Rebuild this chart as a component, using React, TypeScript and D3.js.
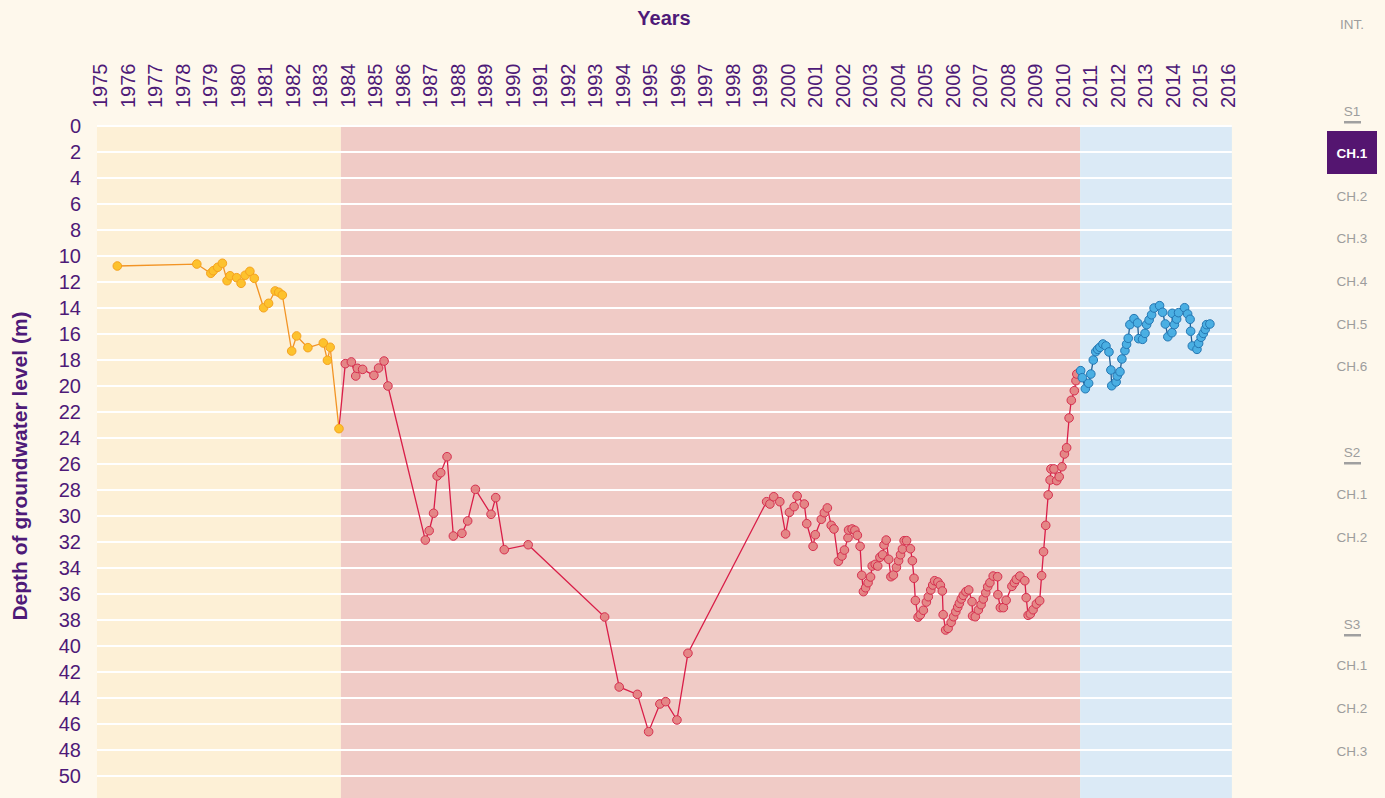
import React, { useRef, useEffect } from "react";
import * as d3 from "d3";

// years on the top axis
const yearTicks = [
  1975, 1976, 1977, 1978, 1979, 1980, 1981, 1982, 1983, 1984, 1985, 1986, 1987, 1988,
  1989, 1990, 1991, 1992, 1993, 1994, 1995, 1996, 1997, 1998, 1999, 2000, 2001, 2002,
  2003, 2004, 2005, 2006, 2007, 2008, 2009, 2010, 2011, 2012, 2013, 2014, 2015, 2016,
];
const depthTicks = [0, 2, 4, 6, 8, 10, 12, 14, 16, 18, 20, 22, 24, 26, 28, 30, 32, 34, 36, 38, 40, 42, 44, 46, 48, 50];

// shaded periods
const periodStarts = [1974.89, 1983.76, 2010.64];
const periodEnds = [1983.76, 2010.64, 2016.16];
const periodFills = ["#fdf0d6", "#f0cbc6", "#dbeaf6"];

const yellowYears = [
  1975.63, 1978.52, 1979.03, 1979.12, 1979.28, 1979.45, 1979.62, 1979.73, 1979.97, 1980.13,
  1980.28, 1980.45, 1980.61, 1980.95, 1981.13, 1981.37, 1981.5, 1981.63, 1981.97, 1982.15,
  1982.56, 1983.12, 1983.27, 1983.37, 1983.69,
];
const yellowDepths = [
  10.77, 10.62, 11.33, 11.13, 10.87, 10.56, 11.9, 11.52, 11.67, 12.1,
  11.48, 11.18, 11.72, 13.98, 13.64, 12.69, 12.79, 13.0, 17.31, 16.15,
  17.05, 16.69, 18.02, 17.02, 23.28,
];

const redYears = [
  1983.92, 1984.14, 1984.3, 1984.36, 1984.55, 1984.96, 1985.13, 1985.33, 1985.47, 1986.83,
  1986.97, 1987.13, 1987.26, 1987.39, 1987.62, 1987.85, 1988.16, 1988.37, 1988.65, 1989.22,
  1989.39, 1989.7, 1990.57, 1993.35, 1993.88, 1994.54, 1994.95, 1995.36, 1995.57, 1995.98,
  1996.38, 1999.24, 1999.36, 1999.5, 1999.72, 1999.93, 2000.07, 2000.24, 2000.35, 2000.61,
  2000.7, 2000.93, 2001.01, 2001.23, 2001.34, 2001.45, 2001.59, 2001.69, 2001.85, 2001.98,
  2002.07, 2002.2, 2002.22, 2002.35, 2002.45, 2002.54, 2002.64, 2002.7, 2002.76, 2002.84,
  2002.93, 2003.02, 2003.08, 2003.19, 2003.28, 2003.36, 2003.46, 2003.51, 2003.59, 2003.68,
  2003.76, 2003.85, 2003.96, 2004.04, 2004.11, 2004.18, 2004.24, 2004.33, 2004.47, 2004.54,
  2004.6, 2004.65, 2004.75, 2004.83, 2004.94, 2005.05, 2005.12, 2005.21, 2005.28, 2005.35,
  2005.47, 2005.56, 2005.63, 2005.66, 2005.75, 2005.84, 2005.95, 2006.04, 2006.12, 2006.19,
  2006.25, 2006.32, 2006.39, 2006.49, 2006.59, 2006.71, 2006.73, 2006.83, 2006.94, 2007.04,
  2007.12, 2007.21, 2007.28, 2007.36, 2007.48, 2007.64, 2007.65, 2007.74, 2007.85, 2007.95,
  2008.16, 2008.25, 2008.32, 2008.45, 2008.63, 2008.68, 2008.75, 2008.83, 2008.93, 2009.05,
  2009.17, 2009.24, 2009.31, 2009.39, 2009.48, 2009.55, 2009.58, 2009.69, 2009.79, 2009.88,
  2009.98, 2010.07, 2010.15, 2010.24, 2010.32, 2010.43, 2010.49, 2010.52,
];
const redDepths = [
  18.28, 18.15, 19.23, 18.64, 18.72, 19.18, 18.62, 18.08, 20.0, 31.85,
  31.13, 29.79, 26.92, 26.67, 25.44, 31.54, 31.33, 30.38, 27.95, 29.87,
  28.59, 32.59, 32.21, 37.77, 43.15, 43.72, 46.59, 44.46, 44.28, 45.69,
  40.56, 28.9, 29.08, 28.52, 28.9, 31.38, 29.72, 29.28, 28.46, 29.08,
  30.59, 32.33, 31.44, 30.25, 29.75, 29.38, 30.72, 31.0, 33.48, 33.08,
  32.62, 31.67, 31.08, 31.0, 31.1, 31.48, 32.33, 34.56, 35.82, 35.52,
  35.13, 34.69, 33.85, 33.72, 33.85, 33.18, 32.98, 32.23, 31.85, 33.33,
  34.67, 34.54, 33.95, 33.44, 32.98, 32.54, 31.9, 31.9, 32.52, 33.44,
  34.79, 36.5, 37.78, 37.6, 37.25, 36.62, 36.21, 35.69, 35.31, 34.98,
  35.08, 35.33, 35.77, 37.59, 38.77, 38.64, 38.18, 37.75, 37.36, 37.02,
  36.72, 36.38, 36.1, 35.82, 35.69, 36.59, 37.69, 37.75, 37.23, 36.82,
  36.38, 35.9, 35.44, 35.13, 34.62, 34.67, 36.05, 37.05, 37.05, 36.48,
  35.41, 35.13, 34.87, 34.62, 34.98, 36.28, 37.64, 37.54, 37.21, 36.77,
  36.52, 34.59, 32.75, 30.72, 28.38, 27.23, 26.38, 26.38, 27.28, 26.98,
  26.21, 25.23, 24.75, 22.46, 21.1, 20.36, 19.59, 19.08,
];

const blueYears = [
  2010.66, 2010.72, 2010.83, 2010.95, 2011.03, 2011.12, 2011.21, 2011.28, 2011.36, 2011.47,
  2011.58, 2011.69, 2011.76, 2011.79, 2011.95, 2011.99, 2012.09, 2012.16, 2012.27, 2012.33,
  2012.39, 2012.45, 2012.6, 2012.73, 2012.77, 2012.91, 2013.0, 2013.06, 2013.15, 2013.24,
  2013.33, 2013.53, 2013.64, 2013.74, 2013.83, 2013.98, 2013.99, 2014.07, 2014.15, 2014.22,
  2014.44, 2014.55, 2014.64, 2014.66, 2014.72, 2014.89, 2014.95, 2015.04, 2015.12, 2015.19,
  2015.24, 2015.36,
];
const blueDepths = [
  18.82, 19.36, 20.21, 19.79, 19.08, 18.0, 17.36, 17.18, 17.02, 16.77,
  16.92, 17.38, 18.77, 19.98, 19.69, 19.23, 18.9, 17.92, 17.28, 16.79,
  16.33, 15.28, 14.82, 15.15, 16.36, 16.41, 15.95, 15.28, 14.92, 14.52,
  14.0, 13.82, 14.33, 15.23, 16.21, 15.9, 14.41, 15.28, 14.85, 14.36,
  13.98, 14.46, 14.87, 15.79, 16.92, 17.18, 16.72, 16.25, 15.95, 15.64,
  15.28, 15.23,
];

const navLabels = ["INT.", "S1", "CH.1", "CH.2", "CH.3", "CH.4", "CH.5", "CH.6", "S2", "CH.1", "CH.2", "S3", "CH.1", "CH.2", "CH.3"];
const navTops = [24, 111, 153, 196, 238, 281, 324, 366, 452, 494, 537, 624, 665, 708, 751];

const width = 1385;
const height = 798;
const purple = "#4e1a78";
const font = "'Liberation Sans', Arial, Helvetica, sans-serif";

function GroundwaterChart() {
  const svgRef = useRef(null);

  useEffect(() => {
    const svg = d3.select(svgRef.current);
    svg.selectAll("*").remove();

    const x = d3.scaleLinear().domain([1975, 2016]).range([100, 1227.5]);
    const y = d3.scaleLinear().domain([0, 50]).range([126, 776]);
    const plotTop = 125;

    svg.append("rect").attr("width", width).attr("height", height).attr("fill", "#fef8ec");

    // period bands
    svg
      .selectAll(".band")
      .data(periodStarts)
      .join("rect")
      .attr("class", "band")
      .attr("x", (d) => x(d))
      .attr("y", plotTop)
      .attr("width", (d, i) => x(periodEnds[i]) - x(d))
      .attr("height", height - plotTop)
      .attr("fill", (d, i) => periodFills[i]);

    // white grid lines
    svg
      .selectAll(".grid")
      .data(depthTicks)
      .join("line")
      .attr("class", "grid")
      .attr("x1", x(periodStarts[0]))
      .attr("x2", x(periodEnds[2]))
      .attr("y1", (d) => y(d))
      .attr("y2", (d) => y(d))
      .attr("stroke", "#ffffff")
      .attr("stroke-width", 2);

    // year labels, rotated
    svg
      .selectAll(".year")
      .data(yearTicks)
      .join("text")
      .attr("class", "year")
      .attr("transform", (d) => `translate(${x(d) + 7},108) rotate(-90)`)
      .attr("font-family", font)
      .attr("font-size", 20)
      .attr("fill", purple)
      .text((d) => d);

    // depth labels
    svg
      .selectAll(".depth")
      .data(depthTicks)
      .join("text")
      .attr("class", "depth")
      .attr("x", 81)
      .attr("y", (d) => y(d) + 7)
      .attr("text-anchor", "end")
      .attr("font-family", font)
      .attr("font-size", 20)
      .attr("fill", purple)
      .text((d) => d);

    svg
      .append("text")
      .attr("x", 664)
      .attr("y", 25)
      .attr("text-anchor", "middle")
      .attr("font-family", font)
      .attr("font-size", 20)
      .attr("font-weight", "bold")
      .attr("fill", purple)
      .text("Years");

    svg
      .append("text")
      .attr("transform", "translate(27,466) rotate(-90)")
      .attr("text-anchor", "middle")
      .attr("font-family", font)
      .attr("font-size", 21)
      .attr("font-weight", "bold")
      .attr("fill", purple)
      .text("Depth of groundwater level (m)");

    const line = d3
      .line()
      .x((d) => x(d[0]))
      .y((d) => y(d[1]));

    const yellow = yellowYears.map((d, i) => [d, yellowDepths[i]]);
    const red = redYears.map((d, i) => [d, redDepths[i]]);
    const blue = blueYears.map((d, i) => [d, blueDepths[i]]);

    // each later series line starts from the last point of the previous one
    const series = [
      { pts: yellow, linePts: yellow, stroke: "#f29425", dotStroke: "#f5a21f", fill: "#fdc22d" },
      { pts: red, linePts: [yellow[yellow.length - 1], ...red], stroke: "#d91e48", dotStroke: "#d6304f", fill: "#e48686" },
      { pts: blue, linePts: [red[red.length - 1], ...blue], stroke: "#1f5f96", dotStroke: "#2477b3", fill: "#4aafe3" },
    ];

    series.forEach((s) => {
      svg
        .append("path")
        .datum(s.linePts)
        .attr("d", line)
        .attr("fill", "none")
        .attr("stroke", s.stroke)
        .attr("stroke-width", 1.3);
    });
    series.forEach((s) => {
      svg
        .append("g")
        .selectAll("circle")
        .data(s.pts)
        .join("circle")
        .attr("cx", (d) => x(d[0]))
        .attr("cy", (d) => y(d[1]))
        .attr("r", 4.3)
        .attr("fill", s.fill)
        .attr("stroke", s.dotStroke)
        .attr("stroke-width", 1);
    });

    // side navigation
    const nav = svg.append("g");
    nav
      .append("rect")
      .attr("x", 1327)
      .attr("y", 131)
      .attr("width", 50)
      .attr("height", 43)
      .attr("fill", "#541570");
    navLabels.forEach((label, i) => {
      const active = i === 2;
      const section = label.startsWith("S");
      nav
        .append("text")
        .attr("x", 1352)
        .attr("y", navTops[i] + 5)
        .attr("text-anchor", "middle")
        .attr("font-family", font)
        .attr("font-size", 13.5)
        .attr("font-weight", active ? "bold" : "normal")
        .attr("fill", active ? "#ffffff" : "#9d9d9d")
        .text(label);
      if (section) {
        nav
          .append("rect")
          .attr("x", 1344)
          .attr("y", navTops[i] + 10)
          .attr("width", 17)
          .attr("height", 2.5)
          .attr("fill", "#a0a0a0");
      }
    });
  }, []);

  return <svg ref={svgRef} width={width} height={height} style={{ display: "block" }} />;
}

export default function App() {
  return (
    <div style={{ position: "fixed", left: 0, top: 0, width, height, overflow: "hidden", background: "#fef8ec" }}>
      <GroundwaterChart />
    </div>
  );
}
